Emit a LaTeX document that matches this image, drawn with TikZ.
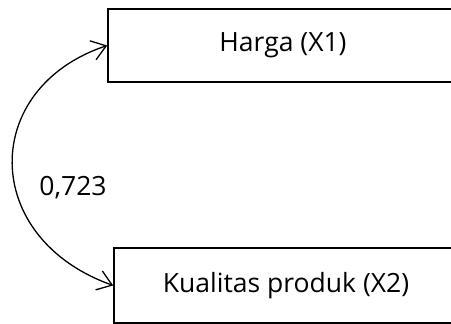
\documentclass[tikz,border=0pt]{standalone}
\usepackage{fontspec}
\setmainfont{Open Sans}
\usetikzlibrary{arrows.meta}
\begin{document}
\begin{tikzpicture}[x=1pt, y=-1pt]
      \tikzstyle{every node}=[font=\fontsize{26.5}{30}\selectfont]
      \tikzstyle{var}=[rectangle, draw, line width=1.5pt, inner sep=0pt]
      \useasboundingbox (0,0) rectangle (451,324);

      \path (283,45.5) node[var, minimum width=350pt, minimum height=73pt] (harga) {Harga (X1)};
      \path (286,285.5) node[var, minimum width=344pt, minimum height=75pt] (kualitas) {Kualitas produk (X2)};

      \draw [line width=1.3pt, {Straight Barb[length=14pt, width=20pt]}-{Straight Barb[length=14pt, width=20pt]}]
        (harga.west) .. controls (-20,88) and (-20,238) .. (kualitas.west);

      \path (73,188) node (r12) {0,723};
    \end{tikzpicture}
\end{document}
